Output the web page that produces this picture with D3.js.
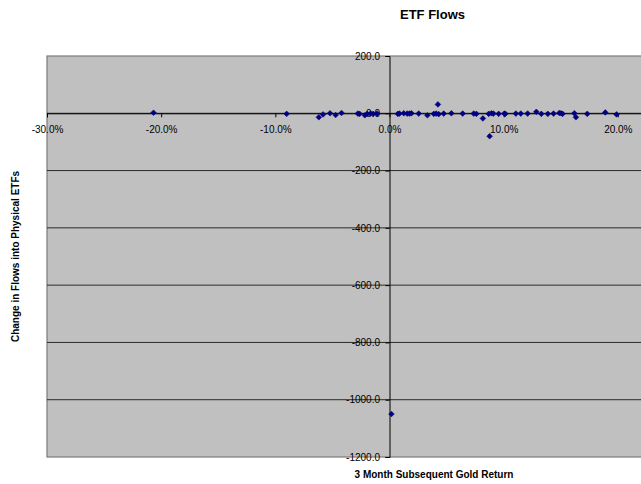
<!DOCTYPE html>
<html>
<head>
<meta charset="utf-8">
<script src="https://cdn.jsdelivr.net/npm/d3@7"></script>
<style>
  html, body { margin: 0; padding: 0; background: #fff; }
  svg { display: block; font-family: Arial, "Liberation Sans", sans-serif; }
</style>
</head>
<body>
<svg id="chart" width="641" height="484"></svg>
<script>
// 3-month subsequent gold return (fraction) for each observation
const goldReturn = [
  -0.2067, -0.0901, -0.0619, -0.0582, -0.0521, -0.0472, -0.0420, -0.0277, -0.0262,
  -0.0216, -0.0195, -0.0166, -0.0143, -0.0109,
  0.0017, 0.0073, 0.0087, 0.0125, 0.0155, 0.0175, 0.0192, 0.0256, 0.0332, 0.0388,
  0.0409, 0.0424, 0.0431, 0.0475, 0.0542, 0.0641, 0.0738, 0.0761, 0.0818, 0.0869,
  0.0877, 0.0892, 0.0910, 0.0956, 0.1006, 0.1015, 0.1107, 0.1150, 0.1210, 0.1286,
  0.1330, 0.1387, 0.1437, 0.1487, 0.1502, 0.1516, 0.1619, 0.1633, 0.1732, 0.1890,
  0.1989
];
// Change in flows into physical ETFs for the same observations
const etfFlowChange = [
  2, -2, -14, -4, 0, -6, 1, -1, -2,
  -7, -2, -1, -2, -1,
  -1050, -2, -1, 0, -1, -1, 0, -1, -7, -2,
  -1, 31, -3, -1, 0, -1, -1, -2, -18, -2,
  -80, 0, -1, -2, -1, -2, -1, -1, -1, 5,
  -2, -2, -1, 1, 0, -2, 0, -14, -2, 3,
  -4
];
const xTickValues = [-0.3, -0.2, -0.1, 0, 0.1, 0.2];
const yTickValues = [200, 0, -200, -400, -600, -800, -1000, -1200];

const chartTitle = "ETF Flows";
const xTitle = "3 Month Subsequent Gold Return";
const yTitle = "Change in Flows into Physical ETFs";

const svg = d3.select("#chart");
const plot = { left: 47, top: 56, right: 732, bottom: 457 };

const x = d3.scaleLinear().domain([-0.3, 0.3]).range([plot.left, plot.right]);
const y = d3.scaleLinear().domain([-1200, 200]).range([plot.bottom, plot.top]);

// plot area background
svg.append("rect")
  .attr("x", plot.left).attr("y", plot.top)
  .attr("width", plot.right - plot.left).attr("height", plot.bottom - plot.top)
  .attr("fill", "#c0c0c0")
  .attr("stroke", "#7a7a7a").attr("stroke-width", 1.2);

// horizontal gridlines
svg.append("g")
  .selectAll("line")
  .data(yTickValues.filter(v => v !== 200 && v !== -1200))
  .join("line")
  .attr("x1", plot.left).attr("x2", plot.right)
  .attr("y1", d => y(d)).attr("y2", d => y(d))
  .attr("stroke", "#2a2a2a").attr("stroke-width", 1);

// x axis crossing at zero flow
const xAxis = svg.append("g")
  .attr("transform", `translate(0,${y(0)})`)
  .call(d3.axisBottom(x)
    .tickValues(xTickValues)
    .tickSize(4)
    .tickPadding(9)
    .tickFormat(d => (d * 100).toFixed(1) + "%"));

// y axis crossing at zero return
const yAxis = svg.append("g")
  .attr("transform", `translate(${x(0)},0)`)
  .call(d3.axisLeft(y)
    .tickValues(yTickValues)
    .tickSize(4)
    .tickPadding(5.5)
    .tickFormat(d => d.toFixed(1)));

[xAxis, yAxis].forEach(g => {
  g.select(".domain").attr("stroke", "#000").attr("stroke-width", 1);
  g.selectAll(".tick line").attr("stroke", "#000");
  g.selectAll(".tick text")
    .attr("fill", "#000")
    .attr("font-size", "10px")
    .attr("font-family", "Arial, 'Liberation Sans', sans-serif");
});

// diamond markers
const diamond = {
  draw(ctx, size) {
    const r = Math.sqrt(size / 2);
    ctx.moveTo(0, -r);
    ctx.lineTo(r, 0);
    ctx.lineTo(0, r);
    ctx.lineTo(-r, 0);
    ctx.closePath();
  }
};
const points = goldReturn.map((g, i) => ({ g, f: etfFlowChange[i] }));

svg.append("g")
  .selectAll("path")
  .data(points)
  .join("path")
  .attr("transform", d => `translate(${x(d.g)},${y(d.f)})`)
  .attr("d", d3.symbol().type(diamond).size(16))
  .attr("fill", "#000080")
  .attr("stroke", "#000080")
  .attr("stroke-width", 0.6);

// titles
svg.append("text")
  .attr("x", 432.5).attr("y", 19)
  .attr("text-anchor", "middle")
  .attr("font-size", "13px").attr("font-weight", "bold")
  .text(chartTitle);

svg.append("text")
  .attr("x", 434).attr("y", 478)
  .attr("text-anchor", "middle")
  .attr("font-size", "10px").attr("font-weight", "bold")
  .text(xTitle);

svg.append("text")
  .attr("transform", `translate(19,${(plot.top + plot.bottom) / 2}) rotate(-90)`)
  .attr("text-anchor", "middle")
  .attr("font-size", "10px").attr("font-weight", "bold")
  .text(yTitle);
</script>
</body>
</html>
